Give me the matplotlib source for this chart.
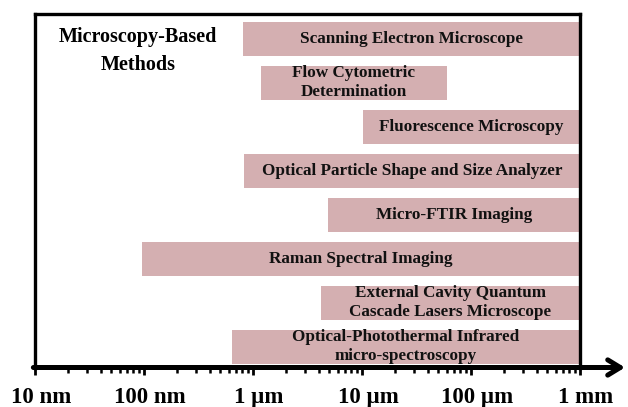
import matplotlib
matplotlib.use("Agg")
import matplotlib.pyplot as plt
import matplotlib.transforms as mtransforms
from matplotlib.ticker import LogLocator, NullFormatter

# ---- data (sizes in micrometres) ----
methods = [
    "Scanning Electron Microscope",
    "Flow Cytometric\nDetermination",
    "Fluorescence Microscopy",
    "Optical Particle Shape and Size Analyzer",
    "Micro-FTIR Imaging",
    "Raman Spectral Imaging",
    "External Cavity Quantum\nCascade Lasers Microscope",
    "Optical-Photothermal Infrared\nmicro-spectroscopy",
]
size_min = [0.81, 1.18, 10.2, 0.82, 4.9, 0.096, 4.2, 0.64]
size_max = [1000, 60, 1000, 1000, 1000, 1000, 1000, 1000]
tick_values = [0.01, 0.1, 1, 10, 100, 1000]
tick_labels = ["10 nm", "100 nm", "1 \u00b5m", "10 \u00b5m", "100 \u00b5m", "1 mm"]
title_text = "Microscopy-Based\nMethods"

# ---- style ----
plt.rcParams['font.family'] = ['Liberation Serif', 'DejaVu Serif']
plt.rcParams['font.weight'] = 'bold'
bar_color = '#D4AFB1'

fig = plt.figure(figsize=(6.28, 4.07), dpi=100)
ax = fig.add_axes([35/628, 39.5/407, 545/628, 353.5/407])

ypos = list(range(len(methods)))
widths = [b - a for a, b in zip(size_min, size_max)]
ax.barh(ypos, widths, left=size_min, height=0.78, color=bar_color, zorder=1)

for y, a, b, lab in zip(ypos, size_min, size_max, methods):
    xc = (a * b) ** 0.5
    ax.text(xc, y, lab, ha='center', va='center', fontsize=12.3,
            fontweight='bold', linespacing=1.25, color='#111111', zorder=2)

ax.set_xscale('log')
ax.set_xlim(0.01, 1000)
ax.set_ylim(7.468, -0.566)
ax.set_yticks([])

ax.set_xticks(tick_values)
ax.set_xticklabels(tick_labels, fontsize=16.5, fontweight='bold')
ax.xaxis.set_minor_locator(LogLocator(base=10, subs=range(2, 10)))
ax.xaxis.set_minor_formatter(NullFormatter())
ax.tick_params(axis='x', which='major', direction='out', length=5, width=2, pad=9)
ax.tick_params(axis='x', which='minor', direction='out', length=3.3, width=1.8)

offset = mtransforms.ScaledTranslation(6/100, 0, fig.dpi_scale_trans)
for lbl in ax.get_xticklabels():
    lbl.set_transform(lbl.get_transform() + offset)

for s in ['top', 'left', 'right']:
    ax.spines[s].set_linewidth(2.4)
    ax.spines[s].set_color('black')
ax.spines['bottom'].set_visible(False)

ax.annotate('', xy=(1.0826, 0), xytext=(-0.003, 0),
            xycoords='axes fraction', textcoords='axes fraction',
            arrowprops=dict(arrowstyle='->,head_length=0.9,head_width=0.55',
                            lw=3.6, color='black', mutation_scale=10,
                            shrinkA=0, shrinkB=0),
            annotation_clip=False, zorder=5)

ax.text(0.189, 0.8416, title_text, transform=ax.transAxes, ha='center',
        va='baseline', fontsize=14.5, fontweight='bold', linespacing=1.53)

fig.savefig('out.png', dpi=100)
